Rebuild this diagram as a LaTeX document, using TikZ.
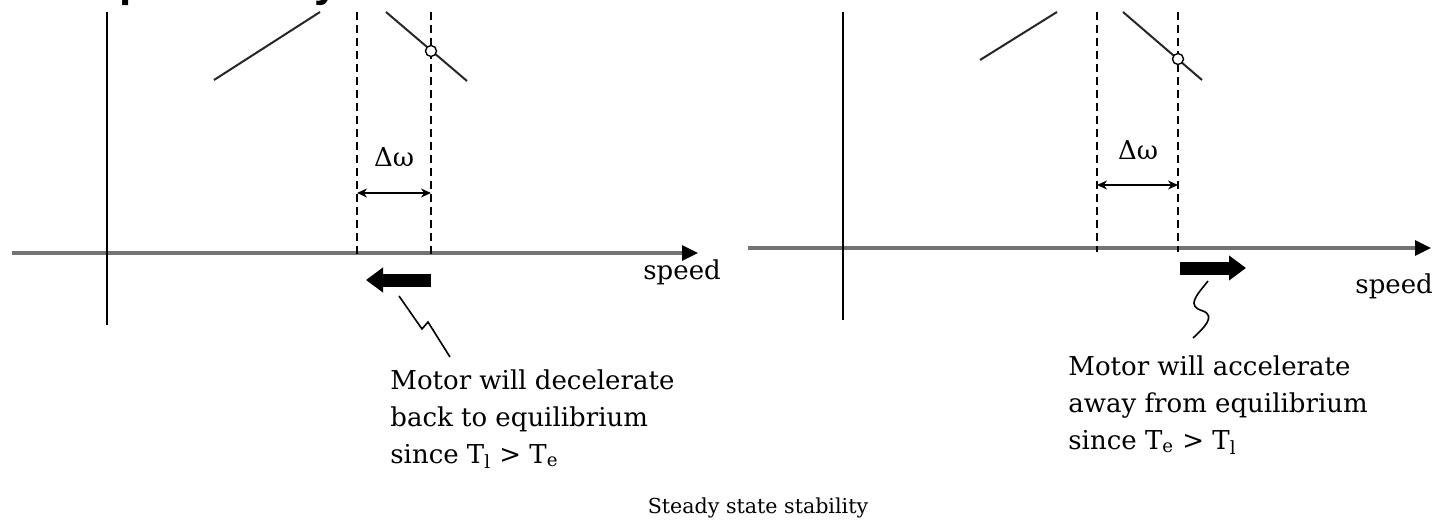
\documentclass[tikz,border=0pt]{standalone}
\usepackage{fontspec}
\setmainfont{DejaVu Serif}
\newfontfamily\titlesans{Liberation Sans}
\usetikzlibrary{arrows.meta}

\newcommand{\notefont}{\fontsize{13pt}{18.5pt}\selectfont}

\tikzset{
  axisline/.style={draw=black!55, line width=1.6pt,
    -{Triangle[length=8pt, width=7.5pt, color=black]}},
  yaxis/.style={draw=black, line width=0.9pt},
  torqueline/.style={draw=black!85, line width=1pt},
  guide/.style={draw=black, line width=0.8pt, dash pattern=on 4pt off 2.5pt},
  opmark/.style={circle, draw=black, fill=white, line width=0.7pt,
    inner sep=0pt, minimum size=5.5pt},
  deltaarrow/.style={draw=black, line width=0.7pt,
    {Stealth[length=5pt, width=4.5pt]}-{Stealth[length=5pt, width=4.5pt]}},
  pusharrow/.style={draw=black, line width=6.5pt,
    -{Triangle[length=8.5pt, width=12pt]}},
  squiggle/.style={draw=black, line width=0.8pt},
  notetext/.style={anchor=base west, align=left, inner sep=0pt, font=\notefont},
  axislabel/.style={anchor=base west, inner sep=0pt, font=\fontsize{13pt}{15pt}\selectfont},
  titletext/.style={anchor=base west, inner sep=0pt,
    font=\titlesans\bfseries\fontsize{22pt}{26pt}\selectfont}
}

\begin{document}
\begin{tikzpicture}[x=0.5pt, y=-0.5pt]
\useasboundingbox (0,0) rectangle (1436,525);

\begin{scope}
  \clip (0,0) rectangle (1436,9);
  \node[titletext] (ttlp) at (119,-4) {p};
  \node[titletext] (ttly) at (314,-4) {y};
\end{scope}

% left panel: stable point
\coordinate (lxs) at (12,253);   \coordinate (lxe) at (698,253);
\coordinate (lyt) at (107,12);   \coordinate (lyb) at (107,325);
\coordinate (lda) at (357,12);   \coordinate (ldb) at (357,257);
\coordinate (lea) at (431,12);   \coordinate (leb) at (431,257);
\draw[axisline] (lxs) -- (lxe);
\draw[yaxis] (lyt) -- (lyb);
\draw[torqueline] (214,80) -- (320,12);
\draw[torqueline] (386,12) -- (467,81);
\draw[guide] (lda) -- (ldb);
\draw[guide] (lea) -- (leb);
\node[opmark] (opl) at (431,51) {};
\node[font=\fontsize{13pt}{15pt}\selectfont] (dwl) at (394,157) {Δω};
\draw[deltaarrow] (357,193) -- (431,193);
\coordinate (pla) at (431,280);  \coordinate (plb) at (366,280);
\draw[pusharrow] (pla) -- (plb);
\node[axislabel] (speedl) at (643,279) {speed};
\node[notetext] (notel) at (390,463)
  {Motor will decelerate\\back to equilibrium\\since T\textsubscript{l} > T\textsubscript{e}};
\draw[squiggle] (399,296) -- (422,329) -- (428,322) -- (450,357);

% right panel: unstable point
\coordinate (rxs) at (748,248);  \coordinate (rxe) at (1431,248);
\coordinate (ryt) at (843,12);   \coordinate (ryb) at (843,320);
\coordinate (rda) at (1097,12);  \coordinate (rdb) at (1097,252);
\coordinate (rea) at (1178,12);  \coordinate (reb) at (1178,252);
\draw[axisline] (rxs) -- (rxe);
\draw[yaxis] (ryt) -- (ryb);
\draw[torqueline] (980,60) -- (1057,12);
\draw[torqueline] (1123,12) -- (1202,80);
\draw[guide] (rda) -- (rdb);
\draw[guide] (rea) -- (reb);
\node[opmark] (opr) at (1178,59) {};
\node[font=\fontsize{13pt}{15pt}\selectfont] (dwr) at (1138,150) {Δω};
\draw[deltaarrow] (1097,185) -- (1178,185);
\coordinate (pra) at (1180,268); \coordinate (prb) at (1246,268);
\draw[pusharrow] (pra) -- (prb);
\node[axislabel] (speedr) at (1355,293) {speed};
\node[notetext] (noter) at (1068,449)
  {Motor will accelerate\\away from equilibrium\\since T\textsubscript{e} > T\textsubscript{l}};
\draw[squiggle] (1208,281) .. controls (1196,296) and (1186,306) .. (1203,311)
  .. controls (1216,316) and (1204,328) .. (1193,338);

\node[font=\fontsize{10.3pt}{12pt}\selectfont, anchor=base] (caption) at (758,513)
  {Steady state stability};
\end{tikzpicture}
\end{document}
